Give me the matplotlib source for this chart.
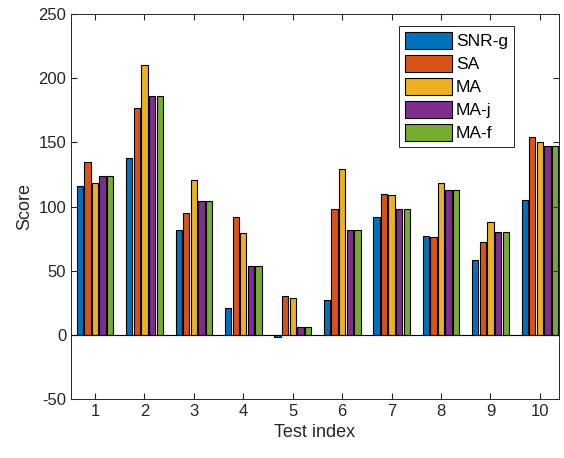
import numpy as np
import matplotlib
matplotlib.use('Agg')
from matplotlib import pyplot as plt

plt.rcParams['font.family'] = ['Liberation Sans', 'DejaVu Sans']
plt.rcParams['axes.unicode_minus'] = False

tests = [1, 2, 3, 4, 5, 6, 7, 8, 9, 10]
series_names = ['SNR-g', 'SA', 'MA', 'MA-j', 'MA-f']
snr_g = [116, 138, 82, 21, -2, 27, 92, 77, 58, 105]
sa = [135, 177, 95, 92, 30, 98, 110, 76, 72, 154]
ma = [118, 210, 121, 79, 29, 129, 109, 118, 88, 150]
ma_j = [124, 186, 104, 54, 6, 82, 98, 113, 80, 147]
ma_f = [124, 186, 104, 54, 6, 82, 98, 113, 80, 147]
colors = ['#0072BD', '#D95319', '#EDB120', '#7E2F8E', '#77AC30']

fig = plt.figure(figsize=(5.64, 4.58), dpi=100)
ax = fig.add_axes([0.126, 0.129, 0.865, 0.840])

x = np.array(tests)
step = 0.154
width = 0.128
for i, (vals, name) in enumerate(zip([snr_g, sa, ma, ma_j, ma_f], series_names)):
    ax.bar(x + (i - 2) * step, vals, width, color=colors[i], edgecolor='black',
           linewidth=0.8, label=name)

ax.axhline(0, color='black', linewidth=0.8)
ax.set_xlim(0.515, 10.385)
ax.set_ylim(-50, 250)
ax.set_xticks(tests)
ax.set_yticks(np.arange(-50, 251, 50))
ax.tick_params(direction='in', top=True, right=True, labelsize=12, colors='#262626', length=4)
for s in ax.spines.values():
    s.set_color('#262626')
    s.set_linewidth(0.7)
ax.set_xlabel('Test index', fontsize=13, color='#262626')
ax.set_ylabel('Score', fontsize=13, color='#262626')
leg = ax.legend(loc='upper right', bbox_to_anchor=(0.908, 0.969), fontsize=12.5,
                fancybox=False, framealpha=1, edgecolor='#262626',
                handlelength=2.75, handleheight=1.1, labelspacing=0.33,
                handletextpad=0.2, borderpad=0.35, borderaxespad=0)
leg.get_frame().set_linewidth(0.7)

fig.savefig('out.png')
